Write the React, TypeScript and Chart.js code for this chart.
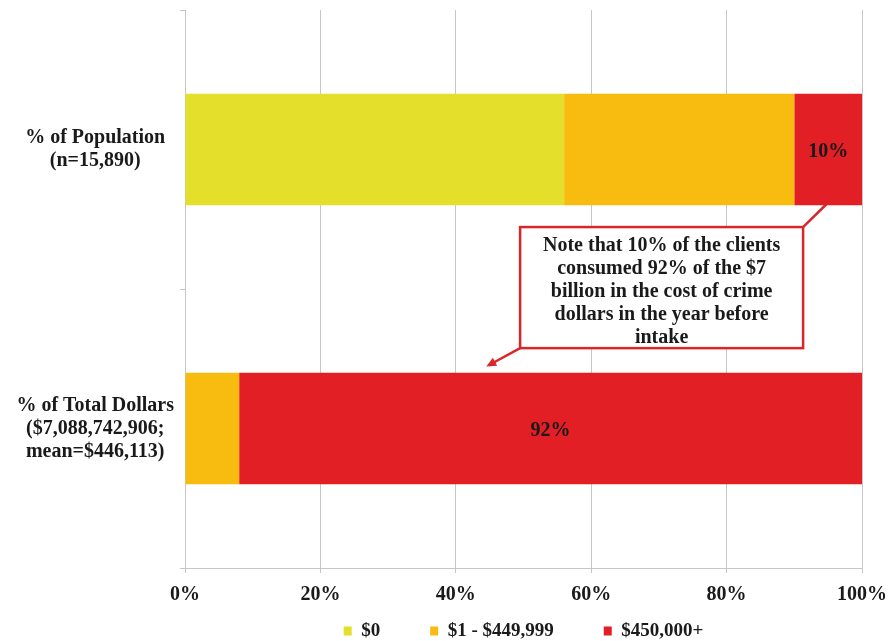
import React, { useEffect, useRef } from "react";
import { Chart, registerables } from "chart.js";

Chart.register(...registerables);

const categories: string[][] = [
  ["% of Population", "(n=15,890)"],
  ["% of Total Dollars", "($7,088,742,906;", "mean=$446,113)"],
];
const seriesNames = ["$0", "$1 - $449,999", "$450,000+"];
const zeroValues = [56, 0];
const midValues = [34, 8];
const highValues = [10, 92];
const xTickValues = [0, 20, 40, 60, 80, 100];

const noteLines = [
  "Note that 10% of the clients",
  "consumed 92% of the $7",
  "billion in the cost of crime",
  "dollars in the year before",
  "intake",
];
// callout box in data units (x: percent, y: category index)
const noteBox = { x0: 49.5, x1: 91.3, y0: 0.278, y1: 0.712 };
const noteTopTip = { x: 95, y: 0.19 };
const noteBottomTip = { x: 44.5, y: 0.778 };

const COLORS = ["#E4DF2A", "#F7BC0F", "#E11F25"];
const SERIF = '"Liberation Serif", "Times New Roman", serif';

const labelPlugin = {
  id: "redLabels",
  afterDatasetsDraw(chart: any) {
    const ctx = chart.ctx;
    const meta = chart.getDatasetMeta(2);
    ctx.save();
    ctx.font = `bold 20px ${SERIF}`;
    ctx.fillStyle = "#1a1a1a";
    ctx.textAlign = "center";
    ctx.textBaseline = "middle";
    meta.data.forEach((el: any, i: number) => {
      const v = highValues[i];
      ctx.fillText(`${v}%`, (el.x + el.base) / 2, el.y + 2);
    });
    ctx.restore();
  },
};

const calloutPlugin = {
  id: "callout",
  afterDraw(chart: any) {
    const ctx = chart.ctx;
    const xs = chart.scales.x;
    const ys = chart.scales.y;
    const left = xs.getPixelForValue(noteBox.x0);
    const right = xs.getPixelForValue(noteBox.x1);
    const top = ys.getPixelForValue(noteBox.y0);
    const bottom = ys.getPixelForValue(noteBox.y1);
    const t1x = xs.getPixelForValue(noteTopTip.x);
    const t1y = ys.getPixelForValue(noteTopTip.y);
    const t2x = xs.getPixelForValue(noteBottomTip.x);
    const t2y = ys.getPixelForValue(noteBottomTip.y);
    const red = "#D9262B";
    ctx.save();
    ctx.strokeStyle = red;
    ctx.lineWidth = 2.5;
    ctx.beginPath();
    ctx.moveTo(right, top);
    ctx.lineTo(t1x, t1y);
    ctx.stroke();
    const ang = Math.atan2(t2y - bottom, t2x - left);
    const head = 10;
    ctx.beginPath();
    ctx.moveTo(left, bottom);
    ctx.lineTo(t2x - Math.cos(ang) * head * 0.8, t2y - Math.sin(ang) * head * 0.8);
    ctx.stroke();
    ctx.fillStyle = red;
    ctx.beginPath();
    ctx.moveTo(t2x, t2y);
    ctx.lineTo(
      t2x - Math.cos(ang) * head + Math.cos(ang + Math.PI / 2) * 4.5,
      t2y - Math.sin(ang) * head + Math.sin(ang + Math.PI / 2) * 4.5
    );
    ctx.lineTo(
      t2x - Math.cos(ang) * head - Math.cos(ang + Math.PI / 2) * 4.5,
      t2y - Math.sin(ang) * head - Math.sin(ang + Math.PI / 2) * 4.5
    );
    ctx.closePath();
    ctx.fill();
    ctx.fillStyle = "#ffffff";
    ctx.fillRect(left, top, right - left, bottom - top);
    ctx.strokeRect(left, top, right - left, bottom - top);
    ctx.fillStyle = "#1a1a1a";
    ctx.font = `bold 20px ${SERIF}`;
    ctx.textAlign = "center";
    ctx.textBaseline = "middle";
    const cx = (left + right) / 2;
    const lh = 23;
    noteLines.forEach((line, i) => {
      ctx.fillText(line, cx, top + 19 + i * lh);
    });
    ctx.restore();
  },
};

export default function App() {
  const ref = useRef<HTMLCanvasElement | null>(null);
  useEffect(() => {
    if (!ref.current) return;
    const chart = new Chart(ref.current, {
      type: "bar",
      data: {
        labels: categories as any,
        datasets: [
          { label: seriesNames[0], data: zeroValues, backgroundColor: COLORS[0] },
          { label: seriesNames[1], data: midValues, backgroundColor: COLORS[1] },
          { label: seriesNames[2], data: highValues, backgroundColor: COLORS[2] },
        ],
      },
      options: {
        indexAxis: "y",
        animation: false,
        responsive: true,
        maintainAspectRatio: false,
        layout: { padding: { top: 10, right: 31, left: 0, bottom: -9.5 } },
        datasets: { bar: { categoryPercentage: 0.8, barPercentage: 0.5 } },
        scales: {
          x: {
            stacked: true,
            min: 0,
            max: 100,
            afterBuildTicks: (s: any) => {
              s.ticks = xTickValues.map((v) => ({ value: v }));
            },
            afterFit: (s: any) => {
              s.height = 3.5;
              s.paddingLeft = 0;
              s.paddingRight = 0;
            },
            ticks: {
              callback: (v: any) => `${v}%`,
              color: "#1a1a1a",
              font: { family: SERIF, size: 20, weight: "bold", lineHeight: 1.2 },
              mirror: true,
              padding: -39,
              maxRotation: 0,
              autoSkip: false,
            },
            grid: { color: "#c6c6c6", tickLength: 5, lineWidth: 1 },
            border: { color: "#c6c6c6" },
          },
          y: {
            stacked: true,
            afterFit: (s: any) => {
              s.width = 185;
              s.paddingTop = 0;
              s.paddingBottom = 0;
            },
            ticks: {
              crossAlign: "center",
              color: "#1a1a1a",
              font: { family: SERIF, size: 20, weight: "bold", lineHeight: 1.15 },
              padding: 6,
            },
            grid: { color: "#c6c6c6", drawOnChartArea: false, tickLength: 5 },
            border: { color: "#c6c6c6" },
          },
        },
        plugins: {
          legend: {
            position: "bottom",
            fullSize: false,
            labels: {
              boxWidth: 8,
              boxHeight: 9,
              padding: 50,
              color: "#1a1a1a",
              font: { family: SERIF, size: 19, weight: "bold" },
            },
          },
          tooltip: { enabled: false },
        },
      },
      plugins: [labelPlugin, calloutPlugin],
    });
    return () => chart.destroy();
  }, []);
  return (
    <div style={{ position: "absolute", left: 0, top: 0, width: 893, height: 641, background: "#fff" }}>
      <canvas ref={ref} />
    </div>
  );
}
